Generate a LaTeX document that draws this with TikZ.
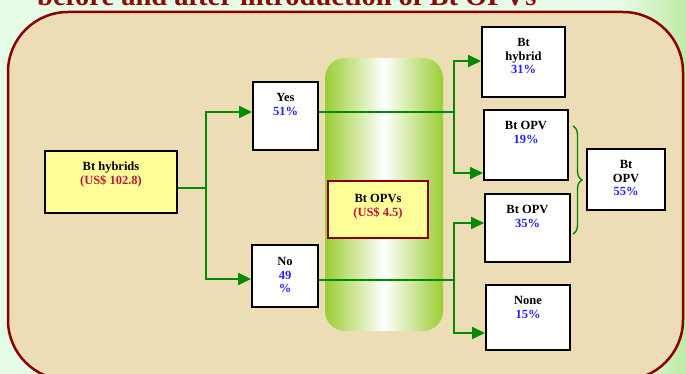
\documentclass[tikz,border=0pt]{standalone}
\usepackage{fontspec}
\setmainfont{Liberation Serif}
\usetikzlibrary{arrows.meta,decorations.pathreplacing,calc}
\definecolor{bgg}{HTML}{E6FCE6}
\definecolor{bgg2}{HTML}{BEEBA4}
\definecolor{beige}{HTML}{EDDDB7}
\definecolor{bord}{HTML}{8B0000}
\definecolor{titlered}{HTML}{8B0A0A}
\definecolor{lgreen}{HTML}{008A00}
\definecolor{ygreen}{HTML}{9ACD32}
\definecolor{boxyel}{HTML}{FFFF99}
\definecolor{usred}{HTML}{C0143C}
\definecolor{pblue}{HTML}{2222FF}
\begin{document}
\begin{tikzpicture}[x=1pt,y=-1pt,
  box/.style={draw=black, line width=2pt, fill=white, inner sep=0pt},
  ybox/.style={box, fill=boxyel},
  txt/.style={font=\fontsize{12.5}{13.8}\selectfont\bfseries, align=center, inner sep=0pt, anchor=north},
  conn/.style={draw=lgreen, line width=1.8pt},
  arr/.style={conn, -{Triangle[length=13pt,width=12pt]}},
  bracestyle/.style={draw=lgreen, line width=1.4pt, decorate, decoration={brace, amplitude=9pt}}
]
\useasboundingbox (0,0) rectangle (686,374);
\clip (0,0) rectangle (686,374);
% background
\fill[bgg] (0,0) rectangle (686,374);
\shade[left color=bgg, right color=bgg2] (620,0) rectangle (686,374);
\node[anchor=base west, font=\fontsize{28.5}{28.5}\selectfont\bfseries, text=titlered, inner sep=0pt] (title) at (37,6) {before and after introduction of Bt OPVs};
\draw[draw=bord, line width=2.5pt, fill=beige, rounded corners=60pt] (8,12) rectangle (683,380);
% gradient column
\shade[left color=ygreen, right color=ygreen, middle color=white, rounded corners=20pt] (325,58) rectangle (443,331);
% boxes
\node[ybox, minimum width=132pt, minimum height=62pt] (hyb) at (111,182) {};
\node[txt] (hybt) at ($(hyb.north)+(0,12)$) {Bt hybrids\\\textcolor{usred}{(US\$ 102.8)}};
\node[box, minimum width=65pt, minimum height=68pt] (yes) at (285.5,116) {};
\node[txt] (yest) at ($(yes.north)+(0,12)$) {Yes\\\textcolor{pblue}{51\%}};
\node[box, minimum width=66pt, minimum height=62pt] (no) at (285,276) {};
\node[txt] (not) at ($(no.north)+(0,13)$) {No\\\textcolor{pblue}{49}\\\textcolor{pblue}{\%}};
\node[ybox, draw=bord, minimum width=100pt, minimum height=57pt] (opv) at (378,209.5) {};
\node[txt] (opvt) at ($(opv.north)+(0,14)$) {Bt OPVs\\\textcolor{usred}{(US\$ 4.5)}};
\node[box, minimum width=83pt, minimum height=70pt] (bh) at (523.5,62) {};
\node[txt] (bht) at ($(bh.north)+(0,12)$) {Bt\\hybrid\\\textcolor{pblue}{31\%}};
\node[box, minimum width=84pt, minimum height=70pt] (o19) at (526,145) {};
\node[txt] (o19t) at ($(o19.north)+(0,12)$) {Bt OPV\\\textcolor{pblue}{19\%}};
\node[box, minimum width=85pt, minimum height=68pt] (o35) at (527.5,228) {};
\node[txt] (o35t) at ($(o35.north)+(0,12)$) {Bt OPV\\\textcolor{pblue}{35\%}};
\node[box, minimum width=84pt, minimum height=65pt] (none) at (528,317.5) {};
\node[txt] (nonet) at ($(none.north)+(0,12)$) {None\\\textcolor{pblue}{15\%}};
\node[box, minimum width=78pt, minimum height=61pt] (o55) at (626,179.5) {};
\node[txt] (o55t) at ($(o55.north)+(0,12)$) {Bt\\OPV\\\textcolor{pblue}{55\%}};
% junctions
\coordinate (j1) at (206,188);
\coordinate (j2) at (454,112);
\coordinate (j3) at (454,280);
\coordinate (yY) at (0,112);
\coordinate (nY) at (0,279);
\coordinate (bhY) at (0,61);
\coordinate (o19Y) at (0,173);
\coordinate (o35Y) at (0,223);
\coordinate (noneY) at (0,333);
% connectors
\draw[conn] (hyb.east |- j1) -- (j1);
\draw[arr] (j1) |- (yes.west |- yY);
\draw[arr] (j1) |- (no.west |- nY);
\draw[conn] (yes.east |- j2) -- (j2);
\draw[arr] (j2) |- (bh.west |- bhY);
\draw[arr] (j2) |- (o19.west |- o19Y);
\draw[conn] (no.east |- j3) -- (j3);
\draw[arr] (j3) |- (o35.west |- o35Y);
\draw[arr] (j3) |- (none.west |- noneY);
% brace
\coordinate (bt) at (573,126);
\coordinate (bb) at (573,234);
\draw[bracestyle] (bt) -- (bb);
\end{tikzpicture}
\end{document}
